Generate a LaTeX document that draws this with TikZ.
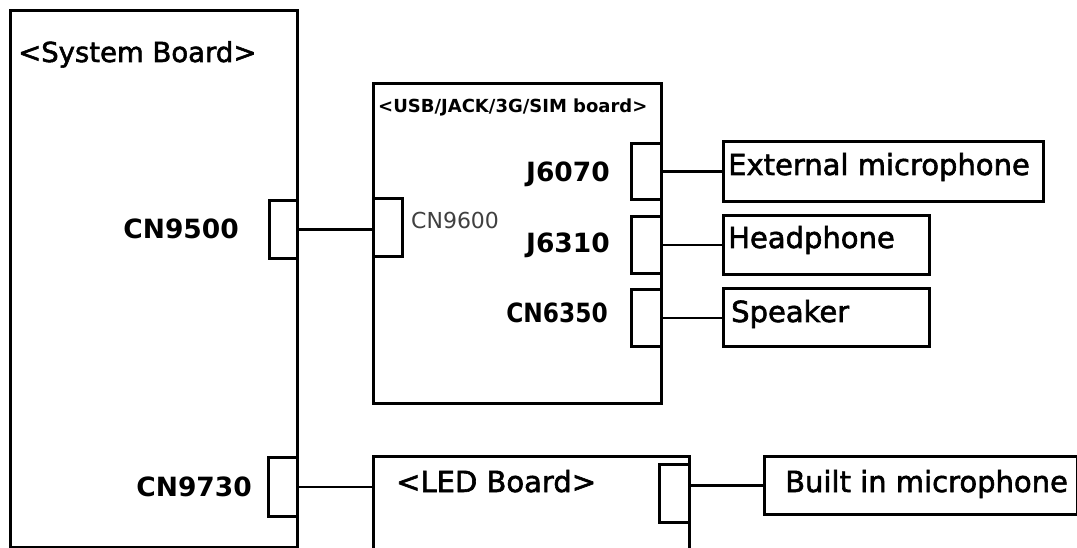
\documentclass[tikz,border=0pt]{standalone}
\usepackage{fontspec}
\setmainfont{DejaVu Sans}
\newfontfamily\medf[FakeBold=2]{DejaVu Sans}
\begin{document}
\begin{tikzpicture}[x=1pt,y=-1pt,
  box/.style={draw, line width=2.8pt, anchor=north west, inner sep=0pt},
  wire/.style={line width=2.6pt},
  title/.style={inner sep=0pt, font=\medf\fontsize{27.5}{32}\selectfont},
  label/.style={inner sep=0pt, font=\medf\fontsize{29}{34}\selectfont},
  conn/.style={inner sep=0pt, font=\bfseries\fontsize{26.5}{31}\selectfont},
  small/.style={inner sep=0pt, text=black!75, font=\fontsize{22}{26}\selectfont},
  tiny/.style={inner sep=0pt, font=\bfseries\fontsize{18}{22}\selectfont}]
\useasboundingbox (0,0) rectangle (1077,548);
\clip (0,0) rectangle (1077,548);
% boards
\node[box, minimum width=287pt, minimum height=537pt] (sys) at (9,9) {};
\node[box, minimum width=288pt, minimum height=320pt] (usb) at (372,82) {};
\node[box, minimum width=316pt, minimum height=120pt] (led) at (372,455) {};
% connectors
\node[box, minimum width=28pt, minimum height=58pt] (cn9500) at (268,199) {};
\node[box, minimum width=29pt, minimum height=59pt] (cn9730) at (267,456) {};
\node[box, minimum width=29pt, minimum height=58pt] (cn9600) at (372,197) {};
\node[box, minimum width=30pt, minimum height=56pt] (j6070) at (630,142) {};
\node[box, minimum width=30pt, minimum height=57pt] (j6310) at (630,215) {};
\node[box, minimum width=30pt, minimum height=57pt] (cn6350) at (630,288) {};
\node[box, minimum width=30pt, minimum height=58pt] (ledc) at (658,463) {};
% device boxes
\node[box, minimum width=320pt, minimum height=60pt] (extmic) at (722,140) {};
\node[box, minimum width=206pt, minimum height=59pt] (hp) at (722,214) {};
\node[box, minimum width=206pt, minimum height=58pt] (spk) at (722,287) {};
\node[box, minimum width=313pt, minimum height=58pt] (bim) at (763,455) {};
% wires
\draw[wire] (cn9500.east) -- (cn9500.east -| cn9600.west);
\draw[wire] (j6070.east) -- (j6070.east -| extmic.west);
\draw[wire] (j6310.east) -- (j6310.east -| hp.west);
\draw[wire] (cn6350.east) -- (cn6350.east -| spk.west);
\draw[wire] (cn9730.east) -- (cn9730.east -| led.west);
\draw[wire] (bim.west -| led.east) -- (bim.west);
% texts
\node[title, anchor=base west] (tsys) at (18,62) {<System Board>};
\node[tiny, anchor=base west] (tusb) at (378,113) {<USB/JACK/3G/SIM board>};
\node[label, anchor=base west] (tled) at (396,492) {<LED Board>};
\node[conn, anchor=base east] (t9500) at (239,239) {CN9500};
\node[conn, anchor=base east] (t9730) at (252,496) {CN9730};
\node[small, anchor=base west] (t9600) at (411,229) {CN9600};
\node[conn, anchor=base east] (t6070) at (610,182) {J6070};
\node[conn, anchor=base east] (t6310) at (610,253) {J6310};
\node[conn, anchor=base east, xscale=0.88, transform shape] (t6350) at (608,323) {CN6350};
\node[label, anchor=base west] (text) at (728,175) {External microphone};
\node[label, anchor=base west] (thp) at (728,248) {Headphone};
\node[label, anchor=base west] (tspk) at (731,322) {Speaker};
\node[label, anchor=base west] (tbim) at (785,492) {Built in microphone};
\end{tikzpicture}
\end{document}
